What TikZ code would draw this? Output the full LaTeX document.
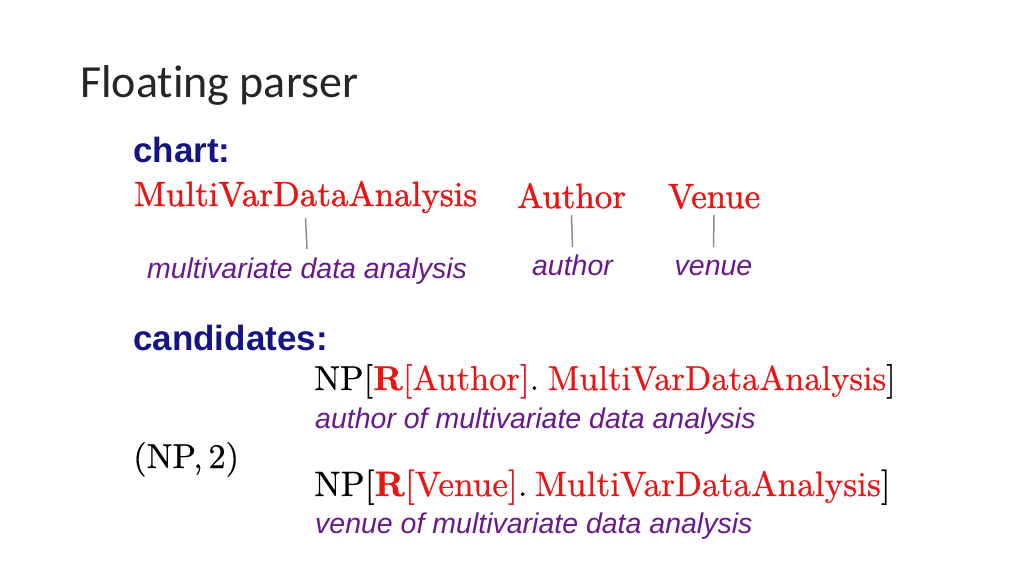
\documentclass[tikz,border=0pt]{standalone}
\usepackage{fontspec}
\usetikzlibrary{calc}
\setmainfont{Carlito}[Ligatures=NoCommon]
\newfontfamily\lmten{lmroman10-regular}[Extension=.otf,BoldFont=lmroman10-bold,FakeBold=0.5]
\newfontfamily\lmheavy{lmroman10-regular}[Extension=.otf,FakeBold=1.2]
\newfontfamily\arialfont{Liberation Sans}
\definecolor{navy}{RGB}{20,20,130}
\definecolor{cred}{RGB}{235,20,20}
\definecolor{cpurple}{RGB}{105,25,140}
\definecolor{lgray}{RGB}{140,140,140}
\begin{document}
\begin{tikzpicture}[x=1pt,y=-1pt,
  title/.style={anchor=base west, inner sep=0pt, font=\fontsize{46}{55}\selectfont, text=black!85},
  head/.style={anchor=base west, inner sep=0pt, font=\arialfont\bfseries\fontsize{35}{42}\selectfont, text=navy},
  chartitem/.style={anchor=base, inner sep=0pt, font=\lmheavy\fontsize{35}{42}\selectfont, text=cred},
  gloss/.style={anchor=base, inner sep=0pt, font=\arialfont\itshape\fontsize{28.5}{34}\selectfont, text=cpurple},
  glossw/.style={gloss, anchor=base west},
  cand/.style={anchor=base west, inner sep=0pt, font=\lmten\fontsize{34.5}{40}\selectfont, text=black},
  conn/.style={draw=lgray, line width=1.5pt}]
\useasboundingbox (0,0) rectangle (1024,576);

\node[title] (title) at (80,97) {Floating parser};

\node[head] (chart) at (133,162) {chart:};

\node[chartitem] (mva) at (305.5,206) {MultiVarDataAnalysis};
\node[chartitem] (author) at (571.5,208) {Author};
\node[chartitem] (venue) at (714,208) {Venue};

\node[gloss] (mvag) at (307,278) {multivariate data analysis};
\node[gloss] (authorg) at (572.5,275) {author};
\node[gloss] (venueg) at (713.5,275) {venue};

\draw[conn] ($(mva.base)+(0,12)$) -- ($(mvag.base)+(0,-29)$);
\draw[conn] ($(author.base)+(0,7)$) -- ($(authorg.base)+(0,-28)$);
\draw[conn] ($(venue.base)+(0,7)$) -- ($(venueg.base)+(0,-28)$);

\node[head] (cands) at (133,350) {candidates:};

\node[cand] (np) at (133,468) {(NP,\,2)};

\node[cand] (c1) at (314,390) {NP[{\color{cred}\textbf{R}[Author]}.\hspace{0.25em}{\color{cred}MultiVarDataAnalysis}]};
\node[glossw] (c1g) at (315,428) {author of multivariate data analysis};

\node[cand, font=\lmten\fontsize{35.3}{42}\selectfont] (c2) at (314,496) {NP[{\color{cred}\textbf{R}[Venue]}.\hspace{0.2em}{\color{cred}MultiVarDataAnalysis}]};
\node[glossw] (c2g) at (315,533) {venue of multivariate data analysis};
\end{tikzpicture}
\end{document}
